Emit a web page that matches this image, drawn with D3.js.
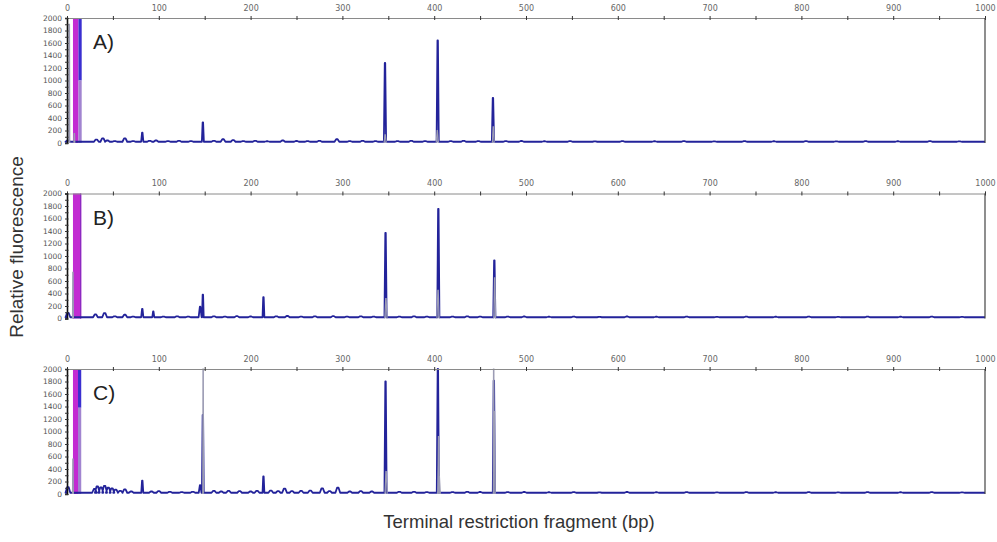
<!DOCTYPE html>
<html>
<head>
<meta charset="utf-8">
<script src="https://cdn.jsdelivr.net/npm/d3@7/dist/d3.min.js"></script>
<style>
  html, body { margin: 0; padding: 0; background: #fff; }
  svg { display: block; font-family: "Liberation Sans", Arial, sans-serif; }
</style>
</head>
<body>
<svg id="chart" width="997" height="542"></svg>
<script>
// Fragment size axis (bp) and fluorescence axis
const sizeTicks = [0, 100, 200, 300, 400, 500, 600, 700, 800, 900, 1000];
const rfuTicks = [0, 200, 400, 600, 800, 1000, 1200, 1400, 1600, 1800, 2000];
const panelNames = ["A)", "B)", "C)"];

// Blue dye trace peaks per sample: [size bp, height RFU, half width bp]
const peaksA = [
  [1, 40], [32, 55], [39, 75], [44, 40], [52, 30], [63, 75], [72, 30], [82, 165, 1.2],
  [90, 35], [97, 40], [110, 30], [122, 35], [135, 30], [148, 330, 1.1], [160, 35],
  [170, 60], [181, 45], [192, 30], [205, 35], [218, 28], [235, 40], [250, 32],
  [262, 30], [275, 35], [294, 60], [308, 30], [322, 35], [336, 30],
  [346.4, 1280, 1.2], [360, 30], [375, 35], [390, 30], [403.8, 1640, 1.2],
  [418, 30], [432, 35], [448, 30], [464, 720, 1.2], [478, 30], [495, 32],
  [520, 28], [548, 30], [575, 26], [605, 30], [640, 28], [672, 30], [705, 27],
  [738, 30], [770, 28], [805, 30], [838, 27], [870, 30], [905, 28], [940, 30], [972, 27]
];
const peaksB = [
  [1, 90], [31, 65], [41, 85], [52, 35], [63, 60], [72, 30], [82, 155, 1.2],
  [94, 112, 1.1], [105, 30], [120, 35], [132, 30], [145, 190, 1.6], [148, 380, 0.9],
  [160, 35], [172, 30], [185, 38], [200, 32], [214, 340, 1.0], [228, 35], [240, 40],
  [255, 30], [270, 35], [290, 38], [305, 30], [320, 35], [334, 30],
  [347, 1370, 1.2], [362, 30], [378, 35], [392, 30], [404.5, 1755, 1.2],
  [420, 30], [436, 35], [450, 30], [465.5, 930, 1.2], [480, 30], [498, 32],
  [525, 28], [552, 30], [580, 26], [610, 32], [642, 28], [675, 30], [708, 27],
  [740, 30], [772, 28], [808, 30], [840, 27], [872, 30], [908, 28], [942, 30], [975, 27]
];
const peaksC = [
  [1, 110], [30, 80], [33, 120], [37, 105], [41, 130], [45, 100], [49, 90], [53, 70],
  [58, 50], [63, 75], [70, 40], [82, 215, 1.1], [92, 40], [100, 45], [112, 35],
  [125, 30], [137, 35], [145, 140, 1.5], [148, 1265, 1.0], [160, 50], [168, 40],
  [176, 50], [188, 45], [200, 40], [207, 50], [214, 280, 1.0], [222, 55], [230, 45],
  [237, 85], [245, 45], [255, 50], [265, 55], [278, 90], [286, 45], [295, 100],
  [308, 40], [320, 45], [332, 40], [347, 1800, 1.2], [362, 35], [378, 35], [392, 30],
  [404, 2100, 1.2], [420, 30], [436, 35], [450, 32], [465, 1815, 1.2], [480, 30],
  [498, 32], [525, 28], [552, 30], [580, 26], [610, 32], [642, 28], [675, 30],
  [708, 27], [740, 30], [772, 28], [808, 30], [840, 27], [872, 30], [908, 28],
  [942, 30], [975, 27]
];
// Second dye trace (grey) peaks: [size bp, height RFU, half width bp]
const greyA = [[2.5, 1900, 0.5], [8, 150, 0.5], [346.6, 130, 1.2], [403.4, 200, 1.2], [464.4, 260, 1.0]];
const greyB = [[6.5, 740, 0.5], [347.4, 320, 1.2], [404.2, 450, 1.2], [465.9, 650, 1.0]];
const greyC = [[6.5, 560, 0.5], [148.3, 2100, 0.4], [347.6, 360, 1.2], [404.8, 920, 0.8],
               [405.5, 280, 1.2], [464.8, 2100, 0.4], [465.6, 1320, 0.9]];
// Primer dye block: [magenta start bp, magenta end bp, blue end bp, blue lower limit RFU]
const primerA = [6.5, 12.5, 16, 1000];
const primerB = [6.5, 15.5, 15.5, 0];
const primerC = [6.5, 12, 15.5, 1380];

const samples = [
  { name: panelNames[0], blue: peaksA, grey: greyA, primer: primerA },
  { name: panelNames[1], blue: peaksB, grey: greyB, primer: primerB },
  { name: panelNames[2], blue: peaksC, grey: greyC, primer: primerC }
];

const svg = d3.select("#chart");
const left = 67, right = 985, panelH = 125;
const panelTops = [18, 193.5, 369];
const baseRFU = 20;

const x = d3.scaleLinear().domain([0, 1000]).range([left, right]);

// turn a list of peaks into trace vertices running along the baseline
function tracePoints(peaks) {
  const pts = [[0, baseRFU]];
  peaks.slice().sort((a, b) => a[0] - b[0]).forEach(p => {
    const w = p[2] || 2.6;
    const top = w > 2 ? 0.8 : 0.25;
    pts.push([p[0] - w, baseRFU], [p[0] - top, p[1]], [p[0] + top, p[1]], [p[0] + w, baseRFU]);
  });
  pts.push([1000, baseRFU]);
  return pts;
}

samples.forEach((s, i) => {
  const top = panelTops[i];
  const y = d3.scaleLinear().domain([0, 2000]).range([top + panelH, top]).clamp(true);
  const g = svg.append("g");

  // primer peak block
  const pr = s.primer;
  g.append("rect")
    .attr("x", x(pr[0])).attr("y", y(2000))
    .attr("width", x(pr[1]) - x(pr[0])).attr("height", y(0) - y(2000))
    .attr("fill", "#c22bd2");
  if (pr[2] > pr[1]) {
    g.append("rect")
      .attr("x", x(pr[1])).attr("y", y(2000))
      .attr("width", x(pr[2]) - x(pr[1])).attr("height", y(pr[3]) - y(2000))
      .attr("fill", "#3a2fd0");
    g.append("rect")
      .attr("x", x(pr[1])).attr("y", y(pr[3]))
      .attr("width", x(pr[2]) - x(pr[1])).attr("height", y(0) - y(pr[3]))
      .attr("fill", "#a184d0");
  } else {
    g.append("rect")
      .attr("x", x(pr[1]) - 1.2).attr("y", y(2000))
      .attr("width", 1.2).attr("height", y(0) - y(2000))
      .attr("fill", "#8a2bc0");
  }

  const line = d3.line().x(d => x(d[0])).y(d => y(d[1]));

  // blue dye trace
  g.append("path")
    .attr("d", line(tracePoints(s.blue)))
    .attr("fill", "none")
    .attr("stroke", "#23239a")
    .attr("stroke-width", 1.8)
    .attr("stroke-linejoin", "round");

  // grey dye trace peaks
  g.selectAll(".grey").data(s.grey).enter().append("path")
    .attr("class", "grey")
    .attr("d", p => line([[p[0] - p[2], 0], [p[0] - 0.2, p[1]], [p[0] + 0.2, p[1]], [p[0] + p[2], 0]]))
    .attr("fill", "none")
    .attr("stroke", "#9c9cb4")
    .attr("stroke-width", 1.2);

  // top size axis
  const xAxis = d3.axisTop(x)
    .tickValues(d3.range(0, 1001, 50))
    .tickSize(2)
    .tickFormat(d => sizeTicks.includes(d) ? d : "");
  const ax = g.append("g").attr("transform", `translate(0,${top})`).call(xAxis);
  ax.select(".domain").attr("stroke", "#8a8a8a").attr("stroke-width", 1);
  ax.selectAll(".tick line").attr("stroke", "#333").attr("y2", -2).attr("y1", 2);
  ax.selectAll(".tick text").attr("fill", "#666").attr("font-size", 8).attr("dy", "-0.3em")
    .attr("font-family", "DejaVu Sans, sans-serif");

  // left fluorescence axis
  const yAxis = d3.axisLeft(y)
    .tickValues(d3.range(0, 2001, 100))
    .tickSize(2)
    .tickFormat(d => rfuTicks.includes(d) ? d : "");
  const ay = g.append("g").attr("transform", `translate(${left},0)`).call(yAxis);
  ay.select(".domain").attr("stroke", "#111").attr("stroke-width", 1.6);
  ay.selectAll(".tick line").attr("stroke", "#333").attr("x1", 1.5);
  ay.selectAll(".tick text").attr("fill", "#555").attr("font-size", 7.5)
    .attr("font-family", "DejaVu Sans, sans-serif").attr("x", -5);

  // right frame edge
  g.append("line")
    .attr("x1", right).attr("x2", right)
    .attr("y1", y(2000)).attr("y2", y(0))
    .attr("stroke", "#444").attr("stroke-width", 1.2);

  // sample label
  g.append("text")
    .attr("x", 93).attr("y", top + 31)
    .attr("font-size", 21).attr("fill", "#222")
    .text(s.name);
});

// axis titles
svg.append("text")
  .attr("transform", "translate(23,247) rotate(-90)")
  .attr("text-anchor", "middle")
  .attr("font-size", 19).attr("fill", "#333")
  .text("Relative fluorescence");

svg.append("text")
  .attr("x", 519).attr("y", 528)
  .attr("text-anchor", "middle")
  .attr("font-size", 18.5).attr("fill", "#333")
  .text("Terminal restriction fragment (bp)");
</script>
</body>
</html>
